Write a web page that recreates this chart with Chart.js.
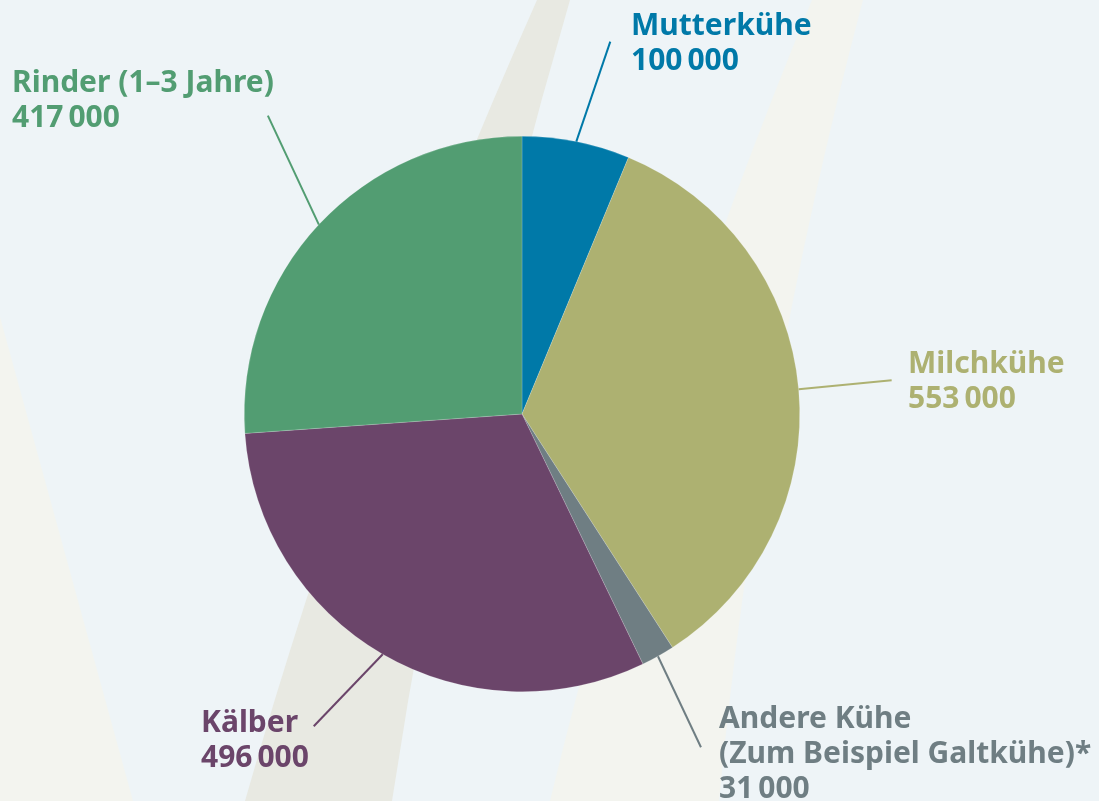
<!DOCTYPE html>
<html>
<head>
<meta charset="utf-8">
<script src="https://cdn.jsdelivr.net/npm/chart.js@4/dist/chart.umd.min.js"></script>
<style>
  html, body { margin: 0; padding: 0; background: #eef4f7; }
  #wrap { width: 1099px; height: 801px; position: relative; }
</style>
</head>
<body>
<div id="wrap"><canvas id="myChart"></canvas></div>
<script>
// Daten
const categories = ['Mutterkühe', 'Milchkühe', 'Andere Kühe\n(Zum Beispiel Galtkühe)*', 'Kälber', 'Rinder (1–3 Jahre)'];
const values = [100000, 553000, 31000, 496000, 417000];
const colors = ['#0079a8', '#adb171', '#6f7e83', '#6b456a', '#529d72'];

// Lage der Beschriftungen: Linienende relativ zum Kreisrand, Textanfang absolut
const labelLayout = [
    { dx: 34, dy: -100, tx: 631, ty: 35 },
    { dx: 93, dy: -9, tx: 908, ty: 373 },
    { dx: 43, dy: 91, tx: 719, ty: 728 },
    { dx: -69, dy: 72, tx: 201, ty: 732 },
    { dx: -51, dy: -109, tx: 12, ty: 92 }
];

function fmt(v) {
    return String(v).replace(/\B(?=(\d{3})+(?!\d))/g, '\u2009');
}

// Hintergrund mit den geschwungenen Streifen
const bgPlugin = {
    id: 'bg',
    beforeDraw(chart) {
        const c = chart.ctx;
        c.save();
        c.fillStyle = '#eef4f7';
        c.fillRect(0, 0, chart.width, chart.height);

        c.fillStyle = '#e8e9e2';
        c.beginPath();
        c.moveTo(537, 0);
        c.quadraticCurveTo(359, 400, 245, 801);
        c.lineTo(392, 801);
        c.quadraticCurveTo(453, 400, 570, 0);
        c.closePath();
        c.fill();

        c.fillStyle = '#f3f4ef';
        c.beginPath();
        c.moveTo(812, 0);
        c.quadraticCurveTo(647, 400, 550, 801);
        c.lineTo(719, 801);
        c.quadraticCurveTo(757, 400, 863, 0);
        c.closePath();
        c.fill();

        c.beginPath();
        c.moveTo(0, 317);
        c.lineTo(133, 801);
        c.lineTo(0, 801);
        c.closePath();
        c.fill();
        c.restore();
    }
};

// Beschriftungen mit Linien
const labelPlugin = {
    id: 'labels',
    afterDraw(chart) {
        const c = chart.ctx;
        const arcs = chart.getDatasetMeta(0).data;
        c.save();
        arcs.forEach((arc, i) => {
            const p = arc.getProps(['x', 'y', 'startAngle', 'endAngle', 'outerRadius'], true);
            const mid = (p.startAngle + p.endAngle) / 2;
            const sx = p.x + Math.cos(mid) * p.outerRadius;
            const sy = p.y + Math.sin(mid) * p.outerRadius;
            const lay = labelLayout[i];
            c.strokeStyle = colors[i];
            c.lineWidth = 2;
            c.beginPath();
            c.moveTo(sx, sy);
            c.lineTo(sx + lay.dx, sy + lay.dy);
            c.stroke();

            c.fillStyle = colors[i];
            c.font = 'bold 30px "Noto Sans"';
            c.textBaseline = 'alphabetic';
            c.textAlign = 'left';
            const lines = categories[i].split('\n').concat([fmt(values[i])]);
            lines.forEach((t, j) => {
                c.fillText(t, lay.tx, lay.ty + j * 35);
            });
        });
        c.restore();
    }
};

const ctx = document.getElementById('myChart');

let config = {
    type: 'pie',
    data: {
        labels: categories,
        datasets: [{
            data: values,
            backgroundColor: colors,
            borderColor: 'rgba(255,255,255,0.35)',
            borderWidth: 0.5
        }]
    },
    options: {
        responsive: false,
        animation: false,
        layout: {
            padding: { top: 136, bottom: 109, left: 0, right: 55 }
        },
        plugins: {
            legend: { display: false },
            tooltip: { enabled: false }
        }
    },
    plugins: [bgPlugin, labelPlugin]
};

ctx.width = 1099;
ctx.height = 801;
let myChart = new Chart(ctx, config);
</script>
</body>
</html>
